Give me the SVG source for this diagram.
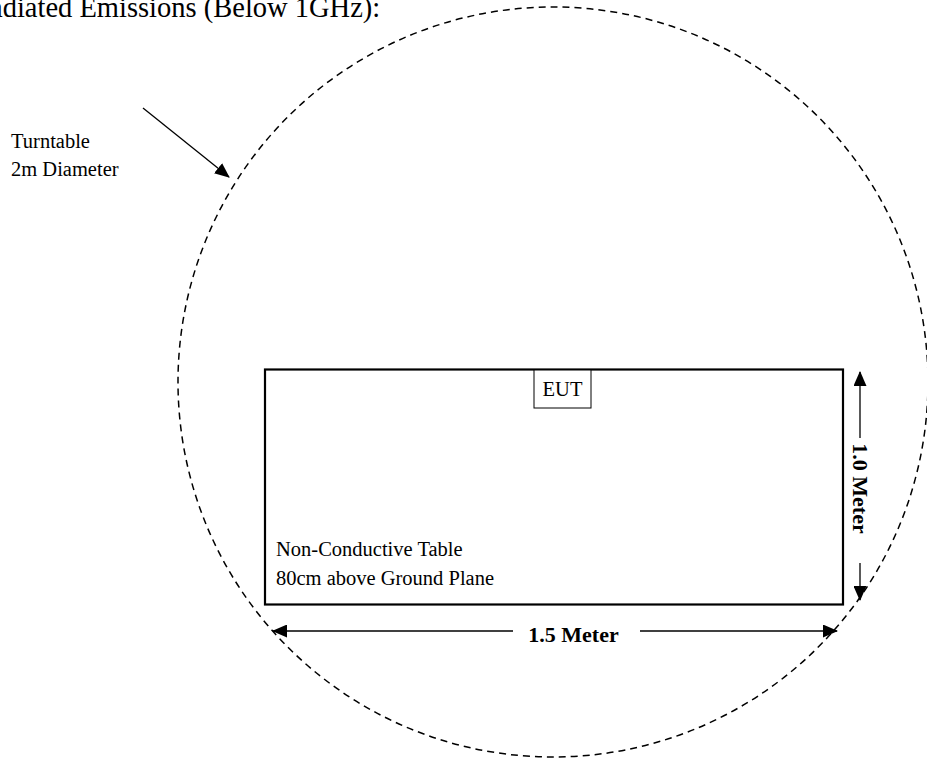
<svg xmlns="http://www.w3.org/2000/svg" width="927" height="760" viewBox="0 0 927 760">
  <style>
    .t { font-family: "Liberation Serif", "Times New Roman", serif; fill: #000; }
    .body { font-size: 20.5px; }
    .bold { font-size: 22px; font-weight: bold; }
    .ln { stroke: #000; stroke-width: 1.3; fill: none; }
  </style>
  <defs>
    <marker id="ah" markerUnits="userSpaceOnUse" markerWidth="15" markerHeight="13" refX="14" refY="6.5" orient="auto">
      <path d="M0,0 L15,6.5 L0,13 z" fill="#000"/>
    </marker>
  </defs>
  <rect width="927" height="760" fill="#fff"/>

  <g id="title">
    <text class="t" x="-29" y="17" font-size="28.5">Radiated Emissions (Below 1GHz):</text>
  </g>

  <g id="turntable">
    <circle cx="553" cy="382" r="375" fill="none" stroke="#000" stroke-width="1.5" stroke-dasharray="7 5"/>
  </g>

  <g id="turntable-label">
    <text class="t body" x="11" y="148">Turntable</text>
    <text class="t body" x="11" y="175.5">2m Diameter</text>
  </g>

  <g id="table">
    <rect x="265" y="369.5" width="578" height="235" fill="none" stroke="#000" stroke-width="2.2"/>
    <text class="t body" x="276" y="556">Non-Conductive Table</text>
    <text class="t body" x="276" y="585">80cm above Ground Plane</text>
  </g>

  <g id="eut">
    <rect x="534" y="370" width="57" height="38" fill="#fff" stroke="#000" stroke-width="1"/>
    <text class="t body" x="562.5" y="396" text-anchor="middle">EUT</text>
  </g>

  <g id="connectors">
    <line class="ln" x1="143" y1="108" x2="229" y2="177" marker-end="url(#ah)"/>
    <line class="ln" x1="513" y1="631" x2="273" y2="631" marker-end="url(#ah)"/>
    <line class="ln" x1="640" y1="631" x2="837" y2="631" marker-end="url(#ah)"/>
    <line class="ln" x1="860" y1="438" x2="860" y2="372" marker-end="url(#ah)"/>
    <line class="ln" x1="860" y1="563" x2="860" y2="600" marker-end="url(#ah)"/>
  </g>

  <g id="dimension-labels">
    <text class="t bold" x="573.5" y="641.5" text-anchor="middle">1.5 Meter</text>
    <text class="t bold" x="853" y="488.5" text-anchor="middle" transform="rotate(90 853 488.5)">1.0 Meter</text>
  </g>
</svg>
